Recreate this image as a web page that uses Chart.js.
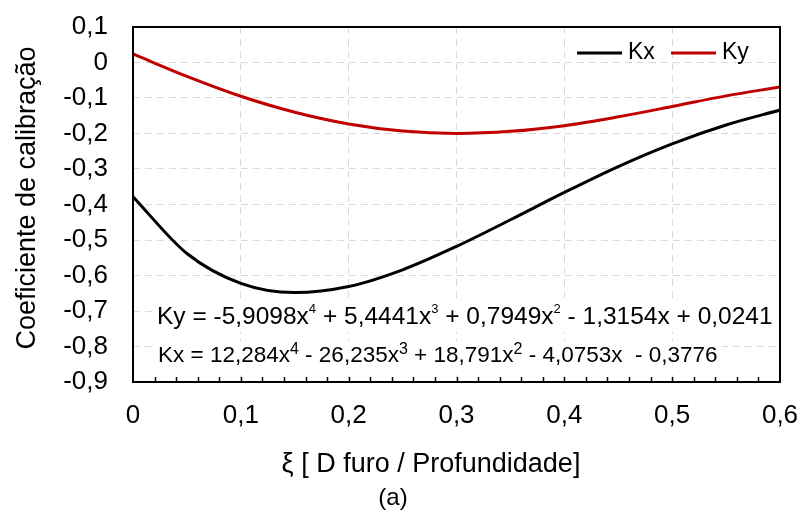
<!DOCTYPE html>
<html>
<head>
<meta charset="utf-8">
<script src="https://cdn.jsdelivr.net/npm/chart.js@4.4.0/dist/chart.umd.min.js"></script>
<style>
  body { margin: 0; background: #fff; }
  canvas { display: block; }
</style>
</head>
<body>
<canvas id="myChart" width="800" height="522"></canvas>
<script>
// values
const xi = [0, 0.05, 0.1, 0.15, 0.2, 0.25, 0.3, 0.35, 0.4, 0.45, 0.5, 0.55, 0.6];
const kx = [-0.378, -0.538, -0.622, -0.648, -0.631, -0.584, -0.518, -0.443, -0.366, -0.293, -0.229, -0.176, -0.134];
const ky = [0.024, -0.039, -0.095, -0.140, -0.173, -0.193, -0.200, -0.194, -0.178, -0.153, -0.124, -0.094, -0.069];
const seriesNames = ['Kx', 'Ky'];
// ^n marks a superscript
const eqKy = 'Ky = -5,9098x^4 + 5,4441x^3 + 0,7949x^2 - 1,3154x + 0,0241';
const eqKx = 'Kx = 12,284x^4 - 26,235x^3 + 18,791x^2 - 4,0753x  - 0,3776';
const xTitle = 'ξ [ D furo / Profundidade]';
const yTitle = 'Coeficiente de calibração';
const caption = '(a)';

const FONT = '"Liberation Sans", Arial, sans-serif';

function fmt(v) {
    let s = (Math.round(v * 10) / 10).toFixed(1);
    if (s == '0.0' || s == '-0.0') return '0';
    return s.replace('.', ',');
}

function pts(ys) {
    return xi.map((x, i) => ({ x: x, y: ys[i] }));
}

// draws text with ^n superscripts, returns nothing
function supText(ctx, text, size, supSize, left, cy) {
    let parts = text.split(/\^(\d)/);
    // measure
    let w = 0;
    parts.forEach((p, i) => {
        ctx.font = (i % 2 ? supSize : size) + 'px ' + FONT;
        w += ctx.measureText(p).width;
    });
    ctx.fillStyle = '#fff';
    ctx.fillRect(left - 4, cy - size * 0.62, w + 8, size * 1.24);
    ctx.fillStyle = '#000';
    let x = left;
    parts.forEach((p, i) => {
        ctx.font = (i % 2 ? supSize : size) + 'px ' + FONT;
        ctx.fillText(p, x, i % 2 ? cy - size * 0.3 : cy);
        x += ctx.measureText(p).width;
    });
}

const decor = {
    id: 'decor',
    afterDatasetsDraw(chart) {
        const ctx = chart.ctx;
        const a = chart.chartArea;
        const x = chart.scales.x;
        ctx.save();

        // trendline equations
        ctx.textBaseline = 'middle';
        ctx.textAlign = 'left';
        supText(ctx, eqKy, 24.5, 13, a.left + 24, a.top + 290);
        supText(ctx, eqKx, 22.5, 16, a.left + 25, a.top + 329);

        // small ticks on the bottom axis
        ctx.strokeStyle = '#000';
        ctx.lineWidth = 1.5;
        ctx.beginPath();
        for (let i = 1; i < 30; i++) {
            let px = Math.round(x.getPixelForValue(i * 0.02)) + 0.5;
            ctx.moveTo(px, a.bottom);
            ctx.lineTo(px, a.bottom - 5);
        }
        ctx.stroke();

        // plot box
        ctx.lineWidth = 2;
        ctx.strokeRect(a.left, a.top, a.right - a.left, a.bottom - a.top);

        // legend
        ctx.font = '23px ' + FONT;
        ctx.textBaseline = 'middle';
        ctx.textAlign = 'left';
        let ly = a.top + 26;
        let lx = a.right - 203;
        chart.data.datasets.forEach(ds => {
            ctx.strokeStyle = ds.borderColor;
            ctx.lineWidth = 3;
            ctx.beginPath();
            ctx.moveTo(lx, ly);
            ctx.lineTo(lx + 45, ly);
            ctx.stroke();
            ctx.fillStyle = '#000';
            ctx.fillText(ds.label, lx + 51, ly);
            lx += 94;
        });

        // axis titles and caption
        ctx.fillStyle = '#000';
        ctx.textAlign = 'center';
        ctx.font = '27px ' + FONT;
        ctx.fillText(xTitle, 431, 465);
        ctx.font = '24px ' + FONT;
        ctx.fillText(caption, 393, 498);
        ctx.save();
        ctx.translate(28, 198);
        ctx.rotate(-Math.PI / 2);
        ctx.font = '27px ' + FONT;
        ctx.fillText(yTitle, 0, 0);
        ctx.restore();

        ctx.restore();
    }
};

const data = {
    datasets: [{
        label: seriesNames[0],
        data: pts(kx),
        borderColor: '#000000',
        borderWidth: 3,
        pointRadius: 0,
        cubicInterpolationMode: 'monotone'
    }, {
        label: seriesNames[1],
        data: pts(ky),
        borderColor: '#c00000',
        borderWidth: 3,
        pointRadius: 0,
        cubicInterpolationMode: 'monotone'
    }]
};

const config = {
    type: 'line',
    data: data,
    options: {
        responsive: false,
        animation: false,
        devicePixelRatio: 1,
        layout: { padding: { left: 0, top: 27, right: 20, bottom: 0 } },
        plugins: {
            legend: { display: false },
            tooltip: { enabled: false }
        },
        scales: {
            x: {
                type: 'linear',
                min: 0,
                max: 0.6,
                afterFit: s => { s.height = 140; s.paddingLeft = 0; s.paddingRight = 0; },
                ticks: {
                    stepSize: 0.1,
                    padding: 18,
                    color: '#000',
                    font: { family: FONT, size: 26 },
                    maxRotation: 0,
                    callback: v => fmt(v)
                },
                grid: { color: '#d9d9d9', lineWidth: 1, drawTicks: false },
                border: { display: false, dash: [7, 5] }
            },
            y: {
                min: -0.9,
                max: 0.1,
                afterFit: s => { s.width = 133; s.paddingTop = 0; s.paddingBottom = 0; },
                ticks: {
                    stepSize: 0.1,
                    padding: 25,
                    color: '#000',
                    font: { family: FONT, size: 26 },
                    callback: v => fmt(v)
                },
                grid: { color: '#d9d9d9', lineWidth: 1, drawTicks: false },
                border: { display: false, dash: [7, 5] }
            }
        }
    },
    plugins: [decor]
};

const myChart = new Chart(document.getElementById('myChart'), config);
</script>
</body>
</html>
